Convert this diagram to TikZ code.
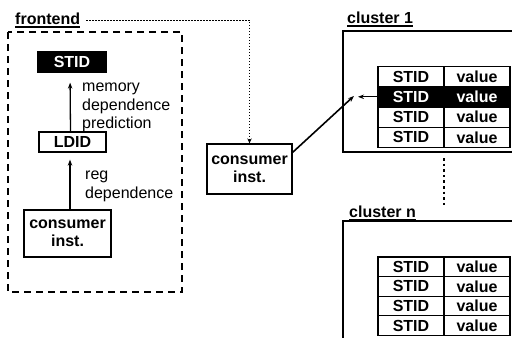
\documentclass[tikz,border=0pt]{standalone}
\usepackage{fontspec}
\setmainfont{Liberation Sans}
\usetikzlibrary{arrows.meta,calc}
\begin{document}
\begin{tikzpicture}[x=1pt,y=-1pt,
  every node/.style={font=\fontsize{16}{18.5}\selectfont},
  box/.style={draw,line width=1.3pt,font=\fontsize{16}{18}\selectfont\bfseries,inner sep=0pt,align=center},
  cell/.style={draw,line width=1.3pt,minimum width=66pt,inner sep=0pt,font=\fontsize{16}{18}\selectfont\bfseries},
  hl/.style={fill=black,text=white},
  lbl/.style={inner sep=0pt,anchor=base west,font=\fontsize{16}{18}\selectfont\bfseries},
  uline/.style={line width=1.3pt},
  arr/.style={line width=1.3pt,-{Stealth[length=6pt,width=4.5pt]}},
  frame/.style={line width=1.3pt}
]
\useasboundingbox (0,0) rectangle (512,338);

% frontend
\node[lbl] (fe) at (15,24.5) {frontend};
\draw[uline] ([yshift=-2.5pt]fe.base west) -- ([yshift=-2.5pt]fe.base east);
\draw[line width=1.8pt,dash pattern=on 7pt off 5pt] (8,32) rectangle (182,292);

\node[box,fill=black,text=white,minimum width=68pt,minimum height=20pt] (stid) at (72,62) {STID};
\node[box,minimum width=67pt,minimum height=20pt] (ldid) at (72.5,142) {LDID};
\node[box,minimum width=87pt,minimum height=47pt] (cons) at (67.5,233.5) {consumer\\inst.};

\draw[arr,shorten >=10pt] ([xshift=-2pt]ldid.north) -- ([xshift=-2pt]stid.south);
\draw[arr,shorten >=7pt] ([xshift=2.5pt]cons.north) -- ([xshift=-2.5pt]ldid.south);

\node[anchor=base west,inner sep=0pt,align=left] (mdp) at (82,128.5) {memory\\dependence\\prediction};
\node[anchor=base west,inner sep=0pt,align=left] (rd) at (85,198) {reg\\dependence};

% middle consumer
\node[box,minimum width=85pt,minimum height=50pt] (mid) at (249.5,169) {consumer\\inst.};
\draw[line width=0.9pt,dash pattern=on 1.6pt off 1.4pt,-{Stealth[length=5pt,width=4.5pt]}]
  ($(fe.base east)+(6,-4.5)$) -| (mid.north);

% cluster 1
\node[lbl] (cl1) at (347,23.5) {cluster 1};
\draw[uline] ([yshift=-2.5pt]cl1.base west) -- ([yshift=-2.5pt]cl1.base east);
\draw[frame] (512,31) -- (343,31) -- (343,152) -- (512,152);
\foreach \r/\y in {1/76.5,3/117.1,4/137.4}{
  \node[cell,minimum height=20.3pt] (c1a\r) at (411,\y) {STID};
  \node[cell,minimum height=20.3pt] (c1b\r) at (477,\y) {value};
}
\node[cell,hl,minimum height=20.3pt] (c1a2) at (411,96.8) {STID};
\node[cell,hl,minimum height=20.3pt] (c1b2) at (477,96.8) {value};

\coordinate (hit) at (355,95);
\draw[arr,shorten >=3pt] (c1a2.west) -- (hit |- c1a2.west);
\draw[arr,line width=1.6pt,shorten >=1.5pt] ($(mid.north east)+(0,9)$) -- (hit);

% dots
\draw[line width=2.6pt,dash pattern=on 2.6pt off 3pt] (444,158) -- (444,205);

% cluster n
\node[lbl] (cln) at (349,217.5) {cluster n};
\draw[uline] ([yshift=-2.5pt]cln.base west) -- ([yshift=-2.5pt]cln.base east);
\draw[frame] (512,221) -- (343,221) -- (343,338);
\foreach \r/\y in {1/266.8,2/286.4,3/306,4/325.6}{
  \node[cell,minimum height=19.6pt] (cna\r) at (411,\y) {STID};
  \node[cell,minimum height=19.6pt] (cnb\r) at (477,\y) {value};
}
\end{tikzpicture}
\end{document}
